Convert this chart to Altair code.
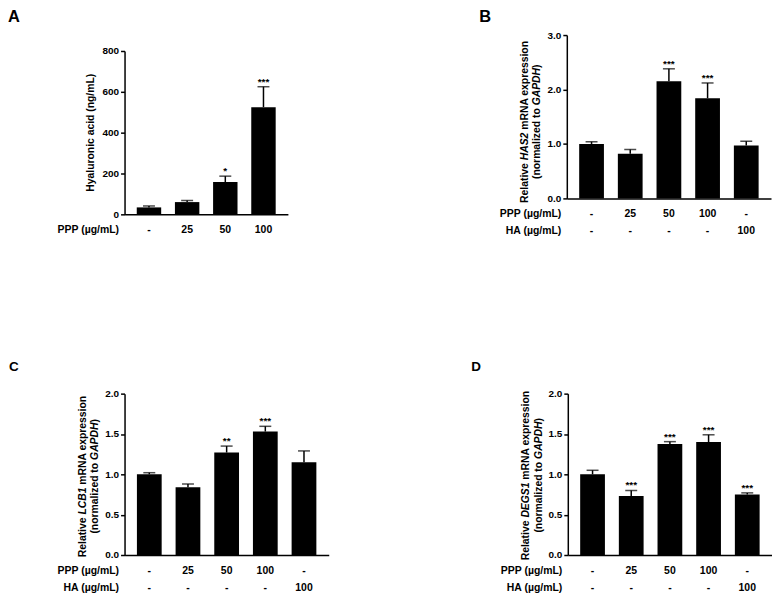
import altair as alt
import pandas as pd

FONT = "Liberation Sans, Arial, Helvetica, sans-serif"

# ---------------- data ----------------
# Panel A: hyaluronic acid (ng/mL)
a_ppp = ["-", "25", "50", "100"]
a_mean = [34, 60, 158, 525]
a_err = [7, 8, 29, 100]
a_sig = ["", "", "*", "***"]

# Panel B: HAS2
b_ppp = ["-", "25", "50", "100", "-"]
b_ha = ["-", "-", "-", "-", "100"]
b_mean = [1.0, 0.82, 2.15, 1.84, 0.97]
b_err = [0.04, 0.08, 0.23, 0.28, 0.08]
b_sig = ["", "", "***", "***", ""]

# Panel C: LCB1
c_ppp = ["-", "25", "50", "100", "-"]
c_ha = ["-", "-", "-", "-", "100"]
c_mean = [1.0, 0.84, 1.27, 1.53, 1.15]
c_err = [0.02, 0.04, 0.08, 0.065, 0.14]
c_sig = ["", "", "**", "***", ""]

# Panel D: DEGS1
d_ppp = ["-", "25", "50", "100", "-"]
d_ha = ["-", "-", "-", "-", "100"]
d_mean = [1.0, 0.73, 1.375, 1.40, 0.75]
d_err = [0.05, 0.07, 0.03, 0.09, 0.02]
d_sig = ["", "***", "***", "***", "***"]

a_ticks = [0, 200, 400, 600, 800]
b_ticks = [0, 1, 2, 3]
cd_ticks = [0, 0.5, 1.0, 1.5, 2.0]

# Arial-bold advance widths (per 1000 em) used to lay out mixed italic titles
W = {" ": 278, "(": 333, ")": 333, "/": 278, "R": 722, "e": 556, "l": 278, "a": 556,
     "t": 333, "i": 278, "v": 556, "H": 722, "A": 722, "S": 667, "2": 556, "1": 556,
     "m": 889, "N": 722, "x": 556, "p": 611, "r": 389, "s": 556, "o": 611, "n": 611,
     "z": 500, "d": 611, "G": 778, "P": 667, "D": 722, "L": 611, "C": 722, "B": 722,
     "E": 667, "u": 611, "c": 556, "y": 556, "g": 611}


def em(s):
    return sum(W.get(ch, 556) for ch in s) / 1000.0


def label(text, x, y, size, align="left", baseline="middle", angle=0, italic=False):
    mk = dict(align=align, baseline=baseline, font=FONT, fontSize=size,
              fontWeight="bold", color="black")
    if angle:
        mk["angle"] = angle
    if italic:
        mk["fontStyle"] = "italic"
    return alt.Chart(pd.DataFrame({"t": [text]})).mark_text(**mk).encode(
        text="t:N", x=alt.value(x), y=alt.value(y))


def rot_title(lines, xs, yc, size):
    layers = []
    for segs, x in zip(lines, xs):
        total = sum(em(s) for s, _ in segs)
        y0 = yc + total * size / 2.0
        cum = 0.0
        for s, it in segs:
            lead = len(s) - len(s.lstrip(" "))
            start = cum + em(" " * lead)
            txt = s.strip(" ")
            layers.append(label(txt, x, y0 - start * size, size, align="left",
                                baseline="middle", angle=270, italic=it))
            cum += em(s)
    return layers


def panel(letter, lx, ly, lsize, ppp, ha, mean, err, sig, ymax, yvals, fmt,
          w, h, title_layers, ytop=0):
    n = len(mean)
    df = pd.DataFrame({
        "idx": list(range(n)),
        "ppp": ppp,
        "mean": mean,
        "top": [m + e for m, e in zip(mean, err)],
        "sig": sig,
    })
    if ha:
        df["ha"] = ha
    base = alt.Chart(df)
    xs = alt.Scale(paddingInner=0.36, paddingOuter=0.32)
    x = alt.X("idx:O", scale=xs,
              axis=alt.Axis(title=None, labels=False, ticks=False, domain=True))
    if ytop:
        ys = alt.Scale(domain=[0, ymax], nice=False, zero=True, range=[h, ytop])
    else:
        ys = alt.Scale(domain=[0, ymax], nice=False, zero=True)
    y = alt.Y("mean:Q", scale=ys,
              axis=alt.Axis(values=yvals, format=fmt, title=None, grid=False))
    bars = base.mark_bar(color="black").encode(x=x, y=y)
    rules = base.mark_rule(color="black", strokeWidth=1.5).encode(
        x="idx:O", y="mean:Q", y2="top:Q")
    caps = base.mark_tick(color="black", size=12, thickness=1.5,
                          orient="horizontal").encode(x="idx:O", y="top:Q")
    stars = base.mark_text(font=FONT, fontSize=10, fontWeight="bold",
                           baseline="alphabetic", dy=-2, color="black").encode(
        x="idx:O", y="top:Q", text="sig:N")
    rowlab = dict(font=FONT, fontSize=10.5, fontWeight="bold", baseline="middle",
                  color="black")
    layers = [bars, rules, caps, stars,
              base.mark_text(**rowlab).encode(x="idx:O", y=alt.value(h + 16),
                                              text="ppp:N"),
              label("PPP (µg/mL)", -5.5, h + 16, 10.5, align="right")]
    if ha:
        layers.append(base.mark_text(**rowlab).encode(
            x="idx:O", y=alt.value(h + 33), text="ha:N"))
        layers.append(label("HA (µg/mL)", -5.5, h + 33, 10.5, align="right"))
    layers += title_layers
    layers.append(label(letter, lx, ly, lsize, align="left", baseline="top"))
    return alt.layer(*layers).properties(width=w, height=h)


TS = 10.4

# Panel A shares its row origin with B, so its plot is 180 tall with the
# value range starting 16 px below the top.
pA = panel("A", -117, -26, 16.5, a_ppp, None, a_mean, a_err, a_sig, 800, a_ticks, "d",
           164, 180,
           rot_title([[("Hyaluronic acid (ng/mL)", False)]], [-33.5], 98, TS),
           ytop=16)

pB = panel("B", -88, -26, 16.5, b_ppp, b_ha, b_mean, b_err, b_sig, 3, b_ticks, ".1f",
           205, 164,
           rot_title([[("Relative ", False), ("HAS2", True), (" mRNA expression", False)],
                      [("(normalized to ", False), ("GAPDH", True), (")", False)]],
                     [-42, -30], 87, TS))

pC = panel("C", -116, -34, 13.5, c_ppp, c_ha, c_mean, c_err, c_sig, 2, cd_ticks, ".1f",
           205, 162,
           rot_title([[("Relative ", False), ("LCB1", True), (" mRNA expression", False)],
                      [("(normalized to ", False), ("GAPDH", True), (")", False)]],
                     [-42, -30], 83, TS))

pD = panel("D", -97, -34, 13.5, d_ppp, d_ha, d_mean, d_err, d_sig, 2, cd_ticks, ".1f",
           205, 162,
           rot_title([[("Relative ", False), ("DEGS1", True), (" mRNA expression", False)],
                      [("(normalized to ", False), ("GAPDH", True), (")", False)]],
                     [-41.5, -29], 82, TS))

row1 = alt.hconcat(pA, pB, spacing=192)
row2 = alt.hconcat(pC, pD, spacing=143)

chart = alt.vconcat(row1, row2, spacing=123).properties(
    padding=0, background="white"
).configure_view(stroke=None).configure_axis(
    labelFont=FONT, labelFontSize=10, labelFontWeight="bold", labelColor="black",
    domainColor="black", domainWidth=1.5, tickColor="black", tickWidth=1.5,
    tickSize=4, labelPadding=2
)

chart.save("out.html", embed_options={"renderer": "svg", "actions": False})
